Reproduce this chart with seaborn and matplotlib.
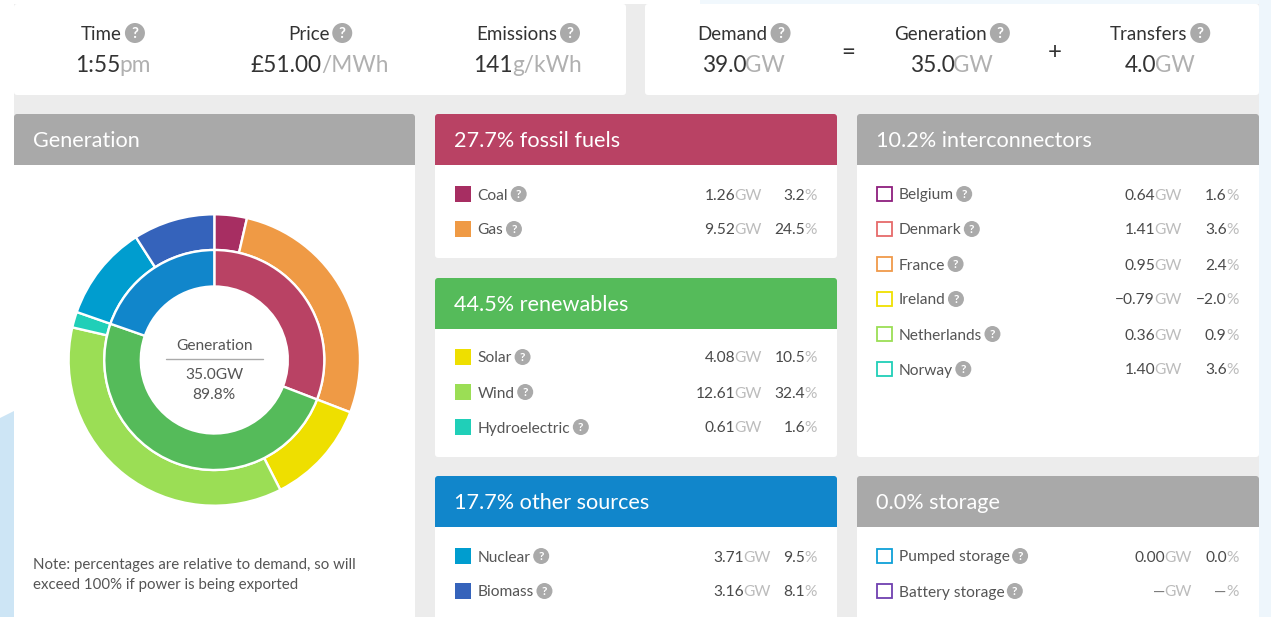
import matplotlib
matplotlib.use("Agg")
import matplotlib.pyplot as plt
from matplotlib.patches import FancyBboxPatch, Rectangle, Circle, Polygon
import seaborn as sns

# ---------- data ----------
fossil_names = ["Coal", "Gas"]
fossil_gw = [1.26, 9.52]
fossil_pct = [3.2, 24.5]
renew_names = ["Solar", "Wind", "Hydroelectric"]
renew_gw = [4.08, 12.61, 0.61]
renew_pct = [10.5, 32.4, 1.6]
other_names = ["Nuclear", "Biomass"]
other_gw = [3.71, 3.16]
other_pct = [9.5, 8.1]
inter_names = ["Belgium", "Denmark", "France", "Ireland", "Netherlands", "Norway"]
inter_gw = [0.64, 1.41, 0.95, -0.79, 0.36, 1.40]
inter_pct = [1.6, 3.6, 2.4, -2.0, 0.9, 3.6]
storage_names = ["Pumped storage", "Battery storage"]
storage_gw = [0.00, None]
storage_pct = [0.0, None]
group_titles = ["27.7% fossil fuels", "44.5% renewables", "17.7% other sources",
                "10.2% interconnectors", "0.0% storage"]
top_left = [("Time", "1:55", "pm"), ("Price", "£51.00", "/MWh"), ("Emissions", "141", "g/kWh")]
top_right = [("Demand", "39.0", "GW"), ("Generation", "35.0", "GW"), ("Transfers", "4.0", "GW")]
centre_lines = ["Generation", "35.0GW", "89.8%"]
note_lines = ["Note: percentages are relative to demand, so will",
              "exceed 100% if power is being exported"]

# ---------- colours ----------
C_FOSSIL, C_RENEW, C_OTHER, C_GREY = sns.color_palette(["#b94264", "#55bb5a", "#1186cb", "#a9a9a9"])
fossil_cols = sns.color_palette(["#a72e62", "#ef9a45"])
renew_cols = sns.color_palette(["#eedf00", "#9bde55", "#20cfb8"])
other_cols = sns.color_palette(["#009dcf", "#3563bb"])
inter_cols = sns.color_palette(["#8e1f7e", "#e66a6a", "#f09a4a", "#f0e000", "#9bde55", "#20cfb8"])
storage_cols = sns.color_palette(["#0ea0d8", "#7040b0"])

W, H = 1271, 617
sns.set_theme(style="white")
plt.rcParams["font.family"] = ["Lato", "DejaVu Sans"]

fig = plt.figure(figsize=(W / 100, H / 100), dpi=100, facecolor="white")
ax = fig.add_axes([0, 0, 1, 1])
ax.set_xlim(0, W)
ax.set_ylim(H, 0)
ax.axis("off")
renderer = fig.canvas.get_renderer()

def px(size):
    return size * 0.72

def rect(x0, y0, x1, y1, color, z=1):
    ax.add_patch(Rectangle((x0, y0), x1 - x0, y1 - y0, fc=color, ec="none", zorder=z))

def card(x0, y0, x1, y1, color="white", z=2):
    ax.add_patch(FancyBboxPatch((x0 + 3, y0 + 3), x1 - x0 - 6, y1 - y0 - 6,
                                boxstyle="round,pad=3,rounding_size=3",
                                fc=color, ec="none", zorder=z))

def width(s, size):
    t = ax.text(0, 0, s, fontsize=px(size))
    w = t.get_window_extent(renderer).width
    t.remove()
    return w

def txt(x, y, s, size, color, ha="left", z=5):
    return ax.text(x, y, s, fontsize=px(size), color=color, ha=ha, va="baseline", zorder=z)

def qmark(x, y, r):
    ax.add_patch(Circle((x, y), r, fc="#aaaaaa", ec="none", zorder=5))
    ax.text(x, y + r * 0.5, "?", fontsize=px(r * 1.5), color="white", ha="center",
            va="baseline", fontweight="bold", zorder=6)

# ---------- page background ----------
rect(700, 0, W, 4, "#f1f8fd", 0)
rect(1259, 0, W, H, "#eef6fc", 0)
ax.add_patch(Polygon([(0, 418), (14, 411), (14, H), (0, H)], fc="#cde5f5", ec="none", zorder=0))
rect(14, 4, 1259, H, "#ececec", 1)

# ---------- top cards ----------
card(14, 4, 626, 95)
card(645, 4, 1259, 95)
top_cx = [113, 320, 528, 744, 952, 1160]
for cx, (lab, val, unit) in zip(top_cx, top_left + top_right):
    lw = width(lab, 18.8)
    total = lw + 3 + 20
    xs = cx - total / 2
    txt(xs, 39.5, lab, 18.8, "#333333")
    qmark(xs + lw + 3 + 10, 33, 10)
    vw, uw = width(val, 22.6), width(unit, 22.6)
    xs = cx - (vw + uw) / 2
    txt(xs, 72, val, 22.6, "#333333")
    txt(xs + vw - 1, 72, unit, 22.6, "#b0b0b0")
txt(848, 59, "=", 24, "#333333", ha="center")
txt(1055, 59, "+", 24, "#333333", ha="center")

# ---------- panels ----------
def panel(x0, y0, x1, y1, title, color, title_h=51):
    card(x0, y0, x1, y1)
    card(x0, y0, x1, y0 + 20, color, 3)
    rect(x0, y0 + 8, x1, y0 + title_h, color, 3)
    txt(x0 + 19.5, y0 + 33, title, 21.7, "white")

def fmt(v, digits):
    if v is None:
        return "—"
    s = f"{abs(v):.{digits}f}"
    return ("−" + s) if v < 0 else s

def rows(x0, y_first, names, gws, pcts, cols, gw_right, pct_right, hollow=False):
    for i, (n, g, p, c) in enumerate(zip(names, gws, pcts, cols)):
        yc = y_first + i * 35
        if hollow:
            ax.add_patch(Rectangle((x0 + 1, yc - 7.25), 14.5, 14.5, fc="white", ec=c, lw=1.3, zorder=4))
        else:
            rect(x0, yc - 8, x0 + 16, yc + 8, c, 4)
        lx = x0 + 22.7
        txt(lx, yc + 5.5, n, 15.5, "#555555")
        qmark(lx + width(n, 15.5) + 10.5, yc, 8)
        for val, unit, right in ((fmt(g, 2), "GW", gw_right), (fmt(p, 1), "%", pct_right)):
            uw = width(unit, 15.5)
            txt(right, yc + 5.5, unit, 15.5, "#bcbcbc", ha="right")
            txt(right - uw + 0.5, yc + 5.5, val, 15.5, "#777777" if val == "—" else "#4a4a4a", ha="right")

panel(14, 114, 415, H + 10, "Generation", C_GREY)
panel(435, 114, 837, 258, group_titles[0], C_FOSSIL)
panel(435, 278, 837, 457, group_titles[1], C_RENEW)
panel(435, 476, 837, H + 10, group_titles[2], C_OTHER)
panel(857, 114, 1259, 457, group_titles[3], C_GREY)
panel(857, 476, 1259, H + 10, group_titles[4], C_GREY)

rows(455, 194, fossil_names, fossil_gw, fossil_pct, fossil_cols, 762, 817)
rows(455, 357, renew_names, renew_gw, renew_pct, renew_cols, 762, 817)
rows(455, 556, other_names, other_gw, other_pct, other_cols, 771, 817)
rows(876, 194, inter_names, inter_gw, inter_pct, inter_cols, 1182, 1238.5, hollow=True)
rows(876, 556, storage_names, storage_gw, storage_pct, storage_cols, 1192, 1238.5, hollow=True)

# ---------- donut ----------
cx, cy, R_out, R_mid, R_in = 214.3, 360, 145.7, 110, 73.5
pie_ax = fig.add_axes([(cx - R_out) / W, 1 - (cy + R_out) / H, 2 * R_out / W, 2 * R_out / H], zorder=3)
pie_ax.patch.set_alpha(0)
outer_vals = fossil_gw + renew_gw + other_gw
outer_cols = list(fossil_cols) + list(renew_cols) + list(other_cols)
inner_vals = [sum(fossil_gw), sum(renew_gw), sum(other_gw)]
inner_cols = [C_FOSSIL, C_RENEW, C_OTHER]
edge = dict(edgecolor="white", linewidth=1.7)
pie_ax.pie(outer_vals, colors=outer_cols, radius=1, startangle=90, counterclock=False,
           wedgeprops=dict(width=(R_out - R_mid) / R_out, **edge))
pie_ax.pie(inner_vals, colors=inner_cols, radius=R_mid / R_out, startangle=90, counterclock=False,
           wedgeprops=dict(width=(R_mid - R_in) / R_out, **edge))
pie_ax.set_xlim(-1, 1)
pie_ax.set_ylim(-1, 1)
pie_ax.set_aspect("equal")
pie_ax.axis("off")

txt(cx, 350.5, centre_lines[0], 15.5, "#555555", ha="center")
ax.plot([166, 263], [359, 359], color="#aaaaaa", lw=1, zorder=5)
txt(cx, 379, centre_lines[1], 15.5, "#555555", ha="center")
txt(cx, 399, centre_lines[2], 15.5, "#555555", ha="center")

txt(33, 569, note_lines[0], 15, "#555555")
txt(33, 589, note_lines[1], 15, "#555555")

fig.savefig("out.png", dpi=100, facecolor="white")
